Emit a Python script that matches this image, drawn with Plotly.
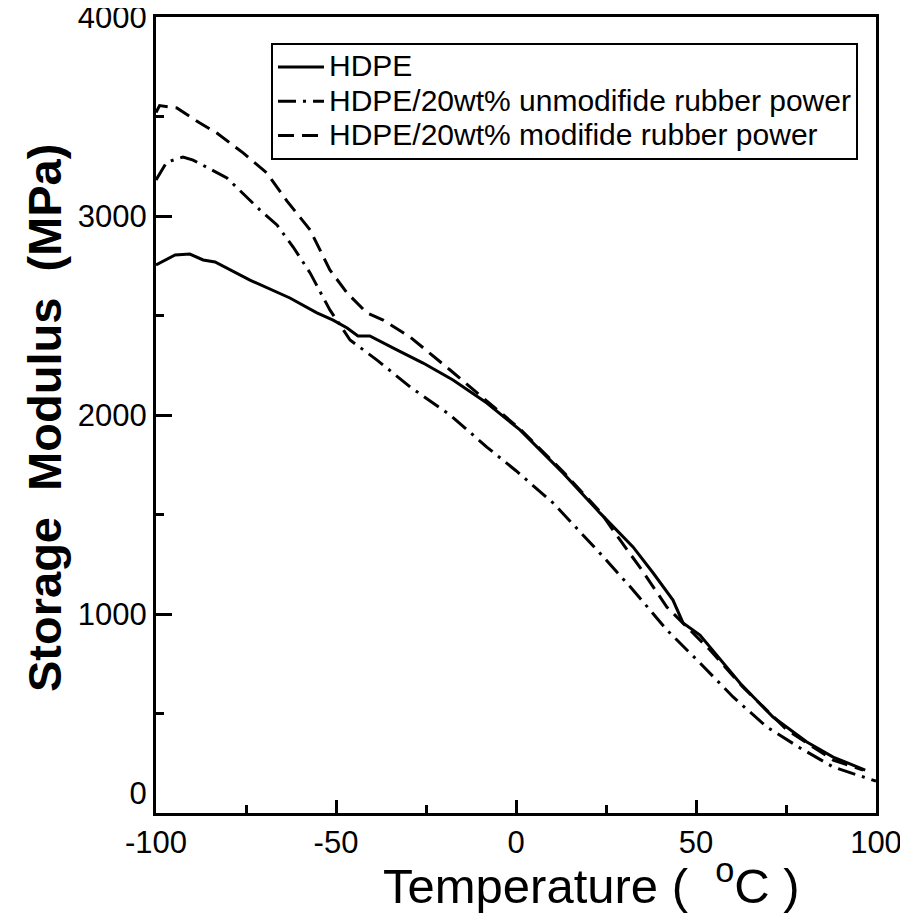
import plotly.graph_objects as go

# HDPE (solid)
hdpe_T = [-100, -94.7, -90.6, -86.9, -83.6, -73.9, -62.8, -55.3, -50.8, -46.9, -43.9, -40.6,
          -33.1, -25.8, -17.5, -8.1, 1.1, 13.1, 23.3, 32.5, 38.1, 43.6, 46.4, 51.1, 62.2, 71.4,
          80.8, 88.1, 97]
hdpe_E = [2754, 2804, 2809, 2779, 2769, 2678, 2588, 2513, 2477, 2437, 2397, 2397,
          2327, 2261, 2176, 2060, 1925, 1708, 1508, 1337, 1206, 1070, 955, 894, 653, 482,
          357, 281, 216]

# HDPE/20wt% unmodified rubber powder (dash-dot)
unmod_T = [-100, -97, -92.5, -89.7, -80.3, -71.1, -66.4, -61.9, -57.2, -51.7, -46.1, -38.6,
           -29.4, -18.3, -8.1, 0, 10.3, 23.3, 32.5, 41.9, 51.1, 60.3, 69.7, 78.9, 88.1, 100]
unmod_E = [3181, 3271, 3296, 3281, 3191, 3030, 2955, 2844, 2714, 2528, 2377, 2276,
           2141, 2000, 1839, 1720, 1558, 1306, 1121, 920, 754, 583, 432, 327, 231, 160]

# HDPE/20wt% modified rubber powder (dashed)
mod_T = [-100, -99, -94.2, -87.8, -83.1, -75.8, -69.2, -63.6, -57.2, -51.7, -46.9, -41.4,
         -36.9, -29.4, -18.3, -10.8, 1.1, 13.1, 23.3, 28.9, 35, 41.9, 46.4, 53.9, 63, 75.3,
         88.1, 96.4]
mod_E = [3520, 3555, 3543, 3467, 3417, 3317, 3216, 3075, 2930, 2729, 2613, 2513,
         2477, 2392, 2226, 2111, 1930, 1715, 1515, 1372, 1220, 1035, 955, 819, 633, 417,
         266, 216]

names = ["HDPE", "HDPE/20wt% unmodifide rubber power", "HDPE/20wt% modifide rubber power"]
x_ticks = [-100, -50, 0, 50, 100]
y_ticks = [0, 1000, 2000, 3000, 4000]
y_ticktext = ["0<br>\u00a0", "1000", "2000", "3000", "4000"]


def big(s):
    return '<span style="font-size:30px">' + s + "</span>"


fig = go.Figure()
fig.add_trace(go.Scatter(x=hdpe_T, y=hdpe_E, mode="lines", name=big(names[0]),
                         line=dict(color="black", width=3, dash="solid")))
fig.add_trace(go.Scatter(x=unmod_T, y=unmod_E, mode="lines", name=big(names[1]),
                         line=dict(color="black", width=3, dash="18px,7px,3px,7px")))
fig.add_trace(go.Scatter(x=mod_T, y=mod_E, mode="lines", name=big(names[2]),
                         line=dict(color="black", width=3, dash="16px,8px")))

FONT = "Liberation Sans, Arial, Helvetica, sans-serif"

# page has an 8px body margin: figure is 900x908, plot area at page px (156..876, 17..813)
PL, PR, PT, PB = 156, 876, 17, 813
PW, PH = PR - PL, PB - PT

fig.update_layout(
    width=900, height=908, autosize=False,
    margin=dict(l=PL - 8, r=900 - (PR - 8), t=PT - 8, b=908 - (PB - 8), autoexpand=False),
    paper_bgcolor="white", plot_bgcolor="white",
    font=dict(family=FONT, color="black", size=30),
    showlegend=True,
    legend=dict(x=(271 - PL) / PW, y=(PB - 43) / PH, xanchor="left", yanchor="top",
                bgcolor="white", bordercolor="black", borderwidth=2,
                font=dict(size=24, family=FONT), tracegroupgap=0, itemwidth=46),
)

fig.update_xaxes(range=[-100, 100], tickvals=x_ticks,
                 ticktext=[str(v) for v in x_ticks], automargin=False,
                 ticklabeloverflow="allow",
                 ticks="inside", ticklen=13, tickwidth=3, tickcolor="black",
                 showline=True, linewidth=3, linecolor="black", mirror=True,
                 showgrid=False, zeroline=False,
                 minor=dict(ticks="inside", ticklen=8, tickwidth=3, tickcolor="black",
                            dtick=25, showgrid=False),
                 tickfont=dict(size=31, family=FONT))
fig.update_yaxes(range=[0, 4000], tickvals=y_ticks,
                 ticktext=y_ticktext, automargin=False,
                 ticklabeloverflow="allow",
                 ticks="inside", ticklen=16, tickwidth=3, tickcolor="black",
                 showline=True, linewidth=3, linecolor="black", mirror=True,
                 showgrid=False, zeroline=False,
                 minor=dict(ticks="inside", ticklen=8, tickwidth=3, tickcolor="black",
                            dtick=500, showgrid=False),
                 tickfont=dict(size=31, family=FONT))

fig.add_annotation(text="Temperature (\u00a0\u00a0<sup>o</sup>C )", xref="paper", yref="paper",
                   x=(591 - PL) / PW, y=-(882 - PB) / PH, xanchor="center", yanchor="middle",
                   showarrow=False, font=dict(size=49, family=FONT))
fig.add_annotation(text="<b>Storage\u00a0\u00a0Modulus\u00a0\u00a0(MPa)</b>", xref="paper", yref="paper",
                   x=-(PL - 45) / PW, y=(PB - 418) / PH, xanchor="center", yanchor="middle",
                   textangle=-90, showarrow=False, font=dict(size=47, family=FONT))

fig.write_html("out.html")
